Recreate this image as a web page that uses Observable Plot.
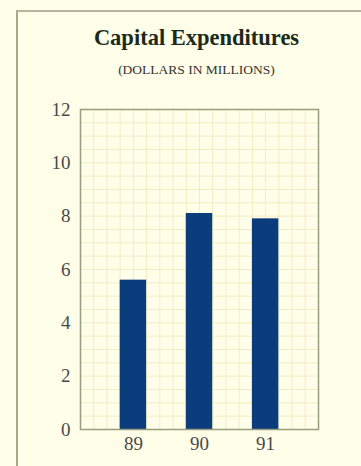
<!DOCTYPE html>
<html>
<head>
<meta charset="utf-8">
<script src="https://cdn.jsdelivr.net/npm/d3@7"></script>
<script src="https://cdn.jsdelivr.net/npm/@observablehq/plot@0.6"></script>
<style>
  html, body { margin: 0; padding: 0; background: #fefee9; width: 361px; height: 466px; overflow: hidden; }
  #page { position: absolute; left: 16px; top: 10px; width: 400px; height: 500px;
          border-top: 2px solid #b9b49c; border-left: 2px solid #a9a88a; }
  #title { position: absolute; left: 0; width: 393px; top: 25px; text-align: center;
           font-family: "Liberation Serif", "DejaVu Serif", serif; font-weight: bold; font-size: 22.5px; color: #1c2a1c; }
  #subtitle { position: absolute; left: 0; width: 393px; top: 62px; text-align: center;
              font-family: "Liberation Serif", "DejaVu Serif", serif; font-size: 13.5px; color: #333; }
  #chart { position: absolute; left: 0; top: 90px; }
  #chart svg text { font-size: 19px; }
</style>
</head>
<body>
<div id="page"></div>
<div id="title">Capital Expenditures</div>
<div id="subtitle">(DOLLARS IN MILLIONS)</div>
<div id="chart"></div>
<script>
const years = [89, 90, 91];
const values = [5.6, 8.1, 7.9];
const yTicks = [0, 2, 4, 6, 8, 10, 12];
const halfWidth = 0.2;

const data = years.map((year, i) => ({year, value: values[i]}));

const chart = Plot.plot({
  width: 361,
  height: 376,
  marginTop: 19,
  marginLeft: 80,
  marginRight: 43,
  marginBottom: 37,
  style: {background: "transparent", fontFamily: "'Liberation Serif', 'DejaVu Serif', serif", fontSize: "19px", color: "#4a4a4a"},
  x: {domain: [88.2, 91.8], label: null},
  y: {domain: [0, 12], label: null},
  marks: [
    Plot.gridX({interval: 0.2, stroke: "#f2edc4", strokeOpacity: 1, strokeWidth: 1}),
    Plot.gridY({interval: 0.5, stroke: "#f3ebc6", strokeOpacity: 1, strokeWidth: 1}),
    Plot.rectY(data, {x1: d => d.year - halfWidth, x2: d => d.year + halfWidth, y: "value", fill: "#0b3d7c"}),
    Plot.frame({stroke: "#9a9d80", strokeWidth: 1.5}),
    Plot.axisY({ticks: yTicks, tickFormat: "d", tickSize: 0, tickPadding: 10, fontSize: 19, fill: "#4a4a4a", label: null}),
    Plot.axisX({ticks: years, tickFormat: "d", tickSize: 0, tickPadding: 7, fontSize: 19, fill: "#4a4a4a", label: null})
  ]
});
document.getElementById("chart").appendChild(chart);
</script>
</body>
</html>
